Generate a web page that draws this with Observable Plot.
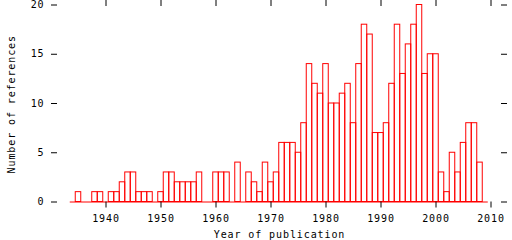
<!DOCTYPE html>
<html>
<head>
<meta charset="utf-8">
<script src="https://cdn.jsdelivr.net/npm/d3@7"></script>
<script src="https://cdn.jsdelivr.net/npm/@observablehq/plot@0.6"></script>
<style>
  html, body { margin: 0; padding: 0; background: #fff; }
  svg { display: block; }
  svg text { letter-spacing: 0.9px; }
</style>
</head>
<body>
<div id="chart"></div>
<script>
const years = [1934,1935,1936,1937,1938,1939,1940,1941,1942,1943,1944,1945,1946,1947,1948,1949,
  1950,1951,1952,1953,1954,1955,1956,1957,1958,1959,1960,1961,1962,1963,1964,1965,1966,1967,1968,1969,
  1970,1971,1972,1973,1974,1975,1976,1977,1978,1979,1980,1981,1982,1983,1984,1985,1986,1987,1988,1989,
  1990,1991,1992,1993,1994,1995,1996,1997,1998,1999,2000,2001,2002,2003,2004,2005,2006,2007,2008,2009];
const counts = [0,1,0,0,1,1,0,1,1,2,3,3,1,1,1,0,
  1,3,3,2,2,2,2,3,0,0,3,3,3,0,4,0,3,2,1,4,
  2,3,6,6,6,5,8,14,12,11,14,10,10,11,12,8,14,18,17,7,
  7,8,12,18,13,16,18,20,13,15,15,3,1,5,3,6,8,8,4,0];
const xTicks = [1940,1950,1960,1970,1980,1990,2000,2010];
const yTicks = [0,5,10,15,20];

const data = years.map((y, i) => ({year: y, count: counts[i]}));
const font = "DejaVu Sans Mono";

const W = 512, H = 240, ML = 57, MR = 11, MT = 6, MB = 38.5;
const frameW = W - ML - MR, frameH = H - MT - MB;

const chart = Plot.plot({
  width: W,
  height: H,
  marginLeft: ML,
  marginRight: MR,
  marginTop: MT,
  marginBottom: MB,
  style: {fontFamily: font, fontSize: "10px", background: "#fff", color: "#000"},
  x: {domain: [1940, 2010], range: [105.5, 490.5], axis: null},
  y: {domain: [0, 20], range: [201.5, 4.5], axis: null},
  marks: [
    Plot.rect(data, {
      x1: d => d.year - 0.5, x2: d => d.year + 0.5,
      y1: 0, y2: "count",
      fill: "none", stroke: "#ff0000", strokeWidth: 1
    }),
    Plot.ruleY([0], {x1: years[0] - 0.5, x2: years[years.length - 1] + 0.5, stroke: "#ff0000", strokeWidth: 1}),
    Plot.axisX({anchor: "bottom", ticks: xTicks, tickSize: 6, tickPadding: 6.5, tickFormat: d => String(d),
      label: "Year of publication", labelAnchor: "center", labelArrow: false, labelOffset: 36}),
    // top mirror ticks
    Plot.ruleX(xTicks, {x: d => d, insetTop: -MT, insetBottom: frameH, stroke: "#000", strokeWidth: 1}),
    Plot.axisY({anchor: "left", ticks: yTicks, tickSize: 6, tickPadding: 7, tickFormat: d => String(d),
      label: "Number of references", labelAnchor: "center", labelArrow: false, labelOffset: 50}),
    // right mirror ticks
    Plot.ruleY(yTicks, {y: d => d, insetLeft: frameW, insetRight: -6, stroke: "#000", strokeWidth: 1})
  ]
});
document.getElementById("chart").appendChild(chart);
</script>
</body>
</html>
